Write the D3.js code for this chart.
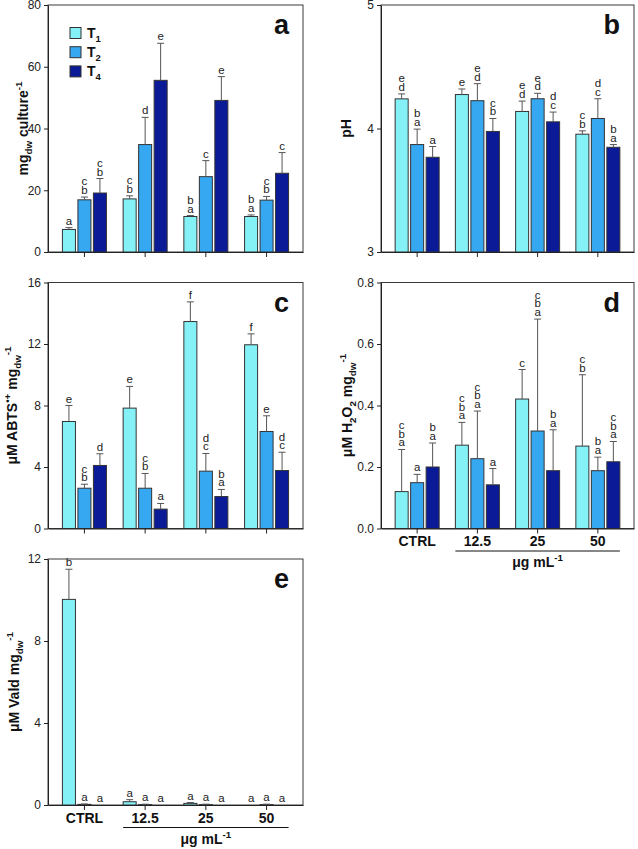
<!DOCTYPE html>
<html><head><meta charset="utf-8">
<script src="https://cdn.jsdelivr.net/npm/d3@7/dist/d3.min.js"></script>
<style>
html,body{margin:0;padding:0;background:#fff;}
svg{display:block;font-family:Arial,"Liberation Sans",Helvetica,sans-serif;}
</style></head>
<body>
<svg id="chart" width="638" height="849"></svg>
<script>
// ---------- data ----------
const groups = ["CTRL", "12.5", "25", "50"];
const series = ["T1", "T2", "T4"];
const seriesSub = ["1", "2", "4"];
const seriesColors = ["#84F1F7", "#36A8F1", "#0B1A97"];

// panel a: biomass (mg dw / culture)
const biomassMeans = [[7.3, 17.2, 11.5, 11.5], [16.9, 34.8, 24.4, 16.8], [19.1, 55.6, 49.1, 25.5]];
const biomassErr   = [[0.6, 1.0, 0.3, 0.5], [0.9, 8.8, 5.2, 1.2], [4.7, 12.0, 7.7, 6.7]];
const biomassLetters = [["a", "bc", "ab", "ab"], ["bc", "d", "c", "bc"], ["bc", "e", "e", "c"]];
const biomassTicks = [0, 20, 40, 60, 80];

// panel b: pH
const phMeans = [[4.24, 4.275, 4.138, 3.954], [3.87, 4.225, 4.241, 4.081], [3.767, 3.976, 4.054, 3.848]];
const phErr   = [[0.04, 0.045, 0.084, 0.027], [0.125, 0.138, 0.044, 0.16], [0.087, 0.105, 0.079, 0.022]];
const phLetters = [["de", "e", "de", "bc"], ["ab", "de", "de", "cd"], ["a", "bc", "cd", "ab"]];
const phTicks = [3, 4, 5];

// panel c: ABTS
const abtsMeans = [[6.96, 7.83, 13.46, 11.95], [2.62, 2.62, 3.73, 6.31], [4.10, 1.26, 2.08, 3.77]];
const abtsErr   = [[1.04, 1.41, 1.28, 0.71], [0.26, 0.96, 1.15, 1.02], [0.76, 0.37, 0.46, 1.19]];
const abtsLetters = [["e", "e", "f", "f"], ["bc", "bc", "cd", "e"], ["d", "a", "ab", "cd"]];
const abtsTicks = [0, 4, 8, 12, 16];

// panel d: H2O2
const h2o2Means = [[0.120, 0.271, 0.421, 0.268], [0.149, 0.227, 0.317, 0.188], [0.200, 0.142, 0.188, 0.217]];
const h2o2Err   = [[0.137, 0.074, 0.096, 0.232], [0.027, 0.155, 0.364, 0.044], [0.078, 0.053, 0.133, 0.066]];
const h2o2Letters = [["abc", "abc", "c", "bc"], ["a", "abc", "abc", "ab"], ["ab", "a", "ab", "abc"]];
const h2o2Ticks = [0.0, 0.2, 0.4, 0.6, 0.8];

// panel e: valdecoxib (Vald)
const valdMeans = [[10.03, 0.16, 0.08, 0.0], [0.03, 0.02, 0.02, 0.02], [0.0, 0.0, 0.0, 0.0]];
const valdErr   = [[1.47, 0.10, 0.04, 0.0], [0.02, 0.02, 0.02, 0.02], [0.0, 0.0, 0.0, 0.0]];
const valdLetters = [["b", "a", "a", "a"], ["a", "a", "a", "a"], ["a", "a", "a", "a"]];
const valdTicks = [0, 4, 8, 12];

const unitLabel = "μg mL";

// ---------- drawing ----------
const svg = d3.select("#chart");

function richText(sel, parts, baseSize) {
  // parts: [text, kind] kind: n (normal), sub, sup
  let shift = 0;
  parts.forEach(([t, kind]) => {
    let target = kind === "sub" ? 0.3 * baseSize : kind === "sup" ? -0.42 * baseSize : 0;
    const ts = sel.append("tspan").text(t).attr("dy", target - shift);
    if (kind !== "n") ts.attr("font-size", baseSize * 0.7);
    shift = target;
  });
}

function panel(cfg) {
  const { left, right, top, bottom, domain, ticks, fmt, means, errs, letters, tag, ylabel, ylabelX, xlabels } = cfg;
  const g = svg.append("g");
  const x = d3.scaleBand().domain(groups).range([left, right]).paddingOuter(0.1).paddingInner(0);
  const sub = d3.scaleBand().domain(series).range([-22, 22]).paddingInner(0.16);
  const y = d3.scaleLinear().domain(domain).range([bottom, top]);
  const cx = gr => x(gr) + x.bandwidth() / 2;

  // frame
  g.append("rect").attr("x", left).attr("y", top).attr("width", right - left).attr("height", bottom - top)
    .attr("fill", "none").attr("stroke", "#3a3a3a").attr("stroke-width", 1);

  // bars
  series.forEach((s, si) => {
    groups.forEach((gr, gi) => {
      const v = means[si][gi], e = errs[si][gi];
      const bx = cx(gr) + sub(s);
      const bw = sub.bandwidth();
      if (y(domain[0]) - y(v) > 0.3) {
        g.append("rect").attr("x", bx).attr("y", y(v)).attr("width", bw).attr("height", y(domain[0]) - y(v))
          .attr("fill", seriesColors[si]).attr("stroke", "#333").attr("stroke-width", 1);
      }
      const capY = y(v + e);
      const mid = bx + bw / 2;
      if (e > 0) {
        g.append("line").attr("x1", mid).attr("x2", mid).attr("y1", y(v)).attr("y2", capY)
          .attr("stroke", "#555").attr("stroke-width", 1);
        g.append("line").attr("x1", mid - 3.5).attr("x2", mid + 3.5).attr("y1", capY).attr("y2", capY)
          .attr("stroke", "#555").attr("stroke-width", 1);
      }
      const chars = letters[si][gi].split("");
      chars.forEach((ch, k) => {
        g.append("text").attr("x", mid).attr("y", capY - 3 - k * 8.7)
          .attr("text-anchor", "middle").attr("font-size", 11.5).attr("fill", "#222").text(ch);
      });
    });
  });

  // y axis
  const ya = g.append("g").attr("transform", `translate(${left},0)`)
    .call(d3.axisLeft(y).tickValues(ticks).tickFormat(fmt).tickSize(4).tickSizeOuter(0).tickPadding(3));
  ya.selectAll("text").attr("font-size", 12).attr("fill", "#222").attr("font-family", "Arial, Liberation Sans, sans-serif");
  ya.selectAll("line,path").attr("stroke", "#222");

  // x axis
  const xa = g.append("g").attr("transform", `translate(0,${bottom})`)
    .call(d3.axisBottom(x).tickSize(5).tickSizeOuter(0).tickPadding(3).tickFormat(xlabels ? (d => d) : () => ""));
  xa.selectAll("text").attr("font-size", 14).attr("font-weight", "bold").attr("fill", "#111")
    .attr("font-family", "Arial, Liberation Sans, sans-serif");
  xa.selectAll("line,path").attr("stroke", "#222");

  if (xlabels) {
    const x1 = cx(groups[1]) - 22, x2 = cx(groups[3]) + 22;
    g.append("line").attr("x1", x1).attr("x2", x2).attr("y1", bottom + 22.5).attr("y2", bottom + 22.5)
      .attr("stroke", "#111").attr("stroke-width", 1);
    const t = g.append("text").attr("x", (x1 + x2) / 2).attr("y", bottom + 38.5).attr("text-anchor", "middle")
      .attr("font-size", 14).attr("font-weight", "bold").attr("fill", "#111");
    richText(t, [[unitLabel, "n"], ["-1", "sup"]], 14);
  }

  // panel tag
  g.append("text").attr("x", right - 14).attr("y", top + 29).attr("text-anchor", "end")
    .attr("font-size", 27).attr("font-weight", "bold").attr("fill", "#111").text(tag);

  // y label
  const yl = g.append("text").attr("transform", `translate(${ylabelX},${(top + bottom) / 2}) rotate(-90)`)
    .attr("text-anchor", "middle").attr("font-size", 14).attr("font-weight", "bold").attr("fill", "#111");
  richText(yl, ylabel, 14);
  return { g, x, y };
}

const pa = panel({ left: 48, right: 303, top: 5, bottom: 252, domain: [0, 80], ticks: biomassTicks, fmt: d3.format("d"),
  means: biomassMeans, errs: biomassErr, letters: biomassLetters, tag: "a", ylabelX: 28,
  ylabel: [["mg", "n"], ["dw", "sub"], [" culture", "n"], ["-1", "sup"]], xlabels: false });

panel({ left: 381, right: 634, top: 5, bottom: 252, domain: [3, 5], ticks: phTicks, fmt: d3.format("d"),
  means: phMeans, errs: phErr, letters: phLetters, tag: "b", ylabelX: 351,
  ylabel: [["pH", "n"]], xlabels: false });

panel({ left: 48, right: 303, top: 282.5, bottom: 528.5, domain: [0, 16], ticks: abtsTicks, fmt: d3.format("d"),
  means: abtsMeans, errs: abtsErr, letters: abtsLetters, tag: "c", ylabelX: 17,
  ylabel: [["μM ABTS", "n"], ["•+", "sup"], [" mg", "n"], ["dw", "sub"], ["-1", "sup"]], xlabels: false });

panel({ left: 381, right: 634, top: 282.5, bottom: 528.5, domain: [0, 0.8], ticks: h2o2Ticks, fmt: d3.format(".1f"),
  means: h2o2Means, errs: h2o2Err, letters: h2o2Letters, tag: "d", ylabelX: 352,
  ylabel: [["μM H", "n"], ["2", "sub"], ["O", "n"], ["2", "sub"], [" mg", "n"], ["dw", "sub"], ["-1", "sup"]], xlabels: true });

panel({ left: 48, right: 303, top: 559, bottom: 805, domain: [0, 12], ticks: valdTicks, fmt: d3.format("d"),
  means: valdMeans, errs: valdErr, letters: valdLetters, tag: "e", ylabelX: 19,
  ylabel: [["μM Vald mg", "n"], ["dw", "sub"], ["-1", "sup"]], xlabels: true });

// legend (panel a)
const lg = pa.g.append("g");
series.forEach((s, i) => {
  const yy = 27.5 + i * 19.2;
  lg.append("rect").attr("x", 70).attr("y", yy).attr("width", 11).attr("height", 11)
    .attr("fill", seriesColors[i]).attr("stroke", "#333").attr("stroke-width", 1);
  const t = lg.append("text").attr("x", 87).attr("y", yy + 10).attr("font-size", 14).attr("font-weight", "bold").attr("fill", "#111");
  t.append("tspan").text("T");
  t.append("tspan").text(seriesSub[i]).attr("font-size", 9.5).attr("dy", 4);
});
</script>
</body></html>
